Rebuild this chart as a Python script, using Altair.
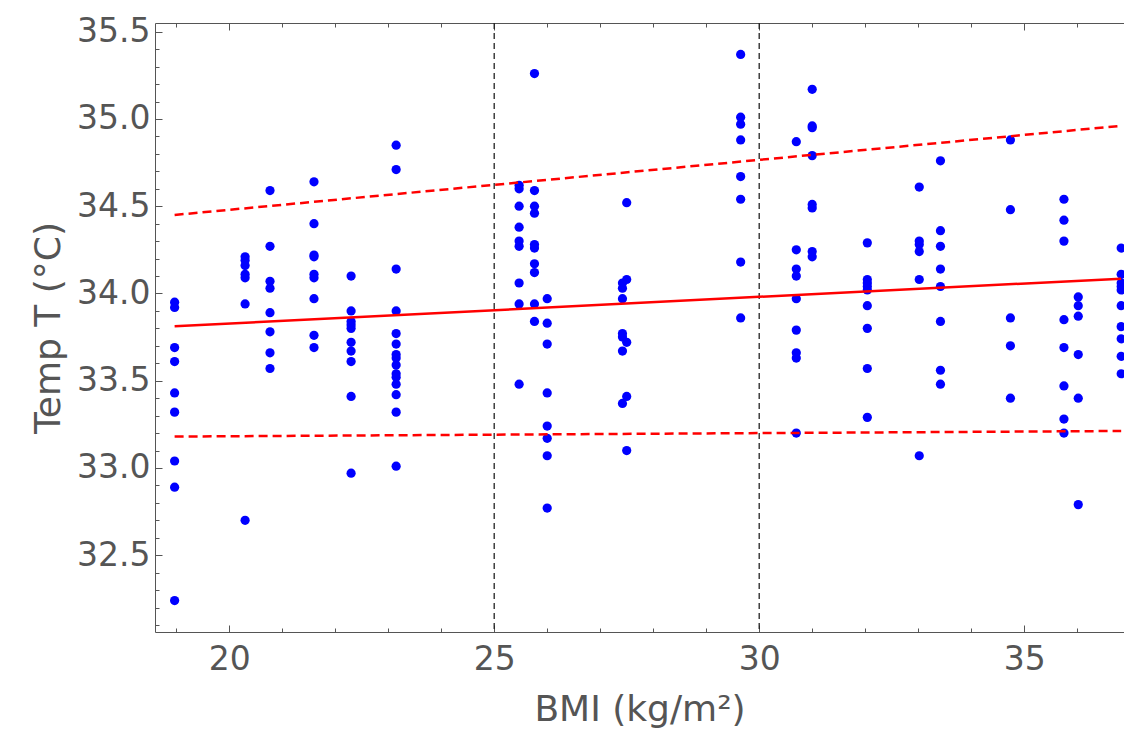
import altair as alt
import numpy as np
import pandas as pd

# ---- data ----
col_bmi = [18.97, 20.30, 20.77, 21.60, 22.30, 23.15, 25.47, 25.76, 26.00,
           27.42, 27.50, 29.65, 30.70, 31.00, 32.04, 33.02, 33.42, 34.74,
           35.75, 36.02, 36.83]
col_temp = [
    [33.95, 33.92, 33.69, 33.61, 33.43, 33.32, 33.04, 32.89, 32.24],
    [34.21, 34.19, 34.16, 34.11, 34.09, 33.94, 32.70],
    [34.59, 34.27, 34.07, 34.03, 33.89, 33.78, 33.66, 33.57],
    [34.64, 34.40, 34.22, 34.21, 34.11, 34.09, 33.97, 33.76, 33.69],
    [34.10, 33.90, 33.84, 33.82, 33.80, 33.72, 33.67, 33.61, 33.41, 32.97],
    [34.85, 34.71, 34.14, 33.90, 33.77, 33.71, 33.65, 33.63, 33.59, 33.54,
     33.52, 33.48, 33.42, 33.32, 33.01],
    [34.62, 34.60, 34.50, 34.38, 34.30, 34.27, 34.06, 33.94, 33.48],
    [35.26, 34.59, 34.50, 34.46, 34.28, 34.26, 34.17, 34.12, 33.94, 33.84],
    [33.97, 33.83, 33.71, 33.43, 33.24, 33.17, 33.07, 32.77],
    [34.06, 34.03, 33.97, 33.77, 33.75, 33.67, 33.37],
    [34.52, 34.08, 33.72, 33.41, 33.10],
    [35.37, 35.01, 34.97, 34.88, 34.67, 34.54, 34.18, 33.86],
    [34.87, 34.25, 34.14, 34.10, 33.97, 33.79, 33.66, 33.63, 33.20],
    [35.17, 34.96, 34.95, 34.79, 34.51, 34.49, 34.24, 34.21],
    [34.29, 34.08, 34.06, 34.04, 34.02, 33.93, 33.80, 33.57, 33.29],
    [34.61, 34.30, 34.28, 34.24, 34.08, 33.07],
    [34.76, 34.36, 34.27, 34.14, 34.04, 33.84, 33.56, 33.48],
    [34.88, 34.48, 33.86, 33.70, 33.40],
    [34.54, 34.42, 34.30, 33.85, 33.69, 33.47, 33.28, 33.20],
    [33.98, 33.93, 33.87, 33.65, 33.40, 32.79],
    [34.26, 34.11, 34.06, 34.04, 34.02, 33.93, 33.81, 33.74, 33.64, 33.54],
]

band_x = [18.97, 36.83]
fit_y = [33.812, 34.085]
upper_y = [34.450, 34.961]
lower_y = [33.180, 33.212]
cutoffs = [25, 30]

x_major = [20, 25, 30, 35]
x_minor = list(range(19, 37))
y_major = [32.5, 33.0, 33.5, 34.0, 34.5, 35.0, 35.5]
y_minor = [round(v, 1) for v in np.arange(32.1, 35.55, 0.1)]

# ---- build tables ----
bmi, temp = [], []
for xv, ys in zip(col_bmi, col_temp):
    for yv in ys:
        bmi.append(xv)
        temp.append(yv)
pts = pd.DataFrame({"bmi": bmi, "temp": temp})
fit_df = pd.DataFrame({"bmi": band_x, "temp": fit_y})
up_df = pd.DataFrame({"bmi": band_x, "temp": upper_y})
lo_df = pd.DataFrame({"bmi": band_x, "temp": lower_y})
cut_a = pd.DataFrame({"bmi": cutoffs[:1]})
cut_b = pd.DataFrame({"bmi": cutoffs[1:]})

FONT = "DejaVu Sans"
GRAY = "#555555"
MAJ, MIN = 7, 4

x_scale = alt.Scale(domain=[18.6, 36.883], nice=False, zero=False)
y_scale = alt.Scale(domain=[32.06, 35.55], nice=False, zero=False)


def tick_axis(orient, values, size):
    return alt.Axis(orient=orient, values=values, tickSize=size, offset=-size,
                    labels=False, domain=False, grid=False, title=None,
                    tickColor=GRAY, tickWidth=1)


def frame_axis(orient):
    return alt.Axis(orient=orient, ticks=False, labels=False, grid=False,
                    domain=True, domainColor=GRAY, domainWidth=1, title=None,
                    offset=0)


x_main = alt.Axis(orient="bottom", values=x_major, format="d", tickSize=MAJ,
                  offset=-MAJ, domain=False, grid=False, tickColor=GRAY,
                  labelFont=FONT, labelFontSize=33, labelColor=GRAY,
                  labelPadding=11, labelOverlap=False, labelFlush=False,
                  title="BMI (kg/m²)", titleFont=FONT, titleFontSize=36,
                  titleFontWeight="normal", titleColor=GRAY, titlePadding=16)
y_main = alt.Axis(orient="left", values=y_major, format=".1f", tickSize=MAJ,
                  offset=-MAJ, domain=False, grid=False, tickColor=GRAY,
                  labelFont=FONT, labelFontSize=33, labelColor=GRAY,
                  labelPadding=5, labelOverlap=False,
                  title="Temp T (°C)", titleFont=FONT, titleFontSize=36,
                  titleFontWeight="normal", titleColor=GRAY, titlePadding=9)

points = alt.Chart(pts).mark_circle(size=85, color="#0000ff", opacity=1).encode(
    x=alt.X("bmi:Q", scale=x_scale, axis=x_main),
    y=alt.Y("temp:Q", scale=y_scale, axis=y_main),
)

rule_a = alt.Chart(cut_a).mark_rule(color="#222222", strokeWidth=1.3,
                                    strokeDash=[6, 4]).encode(
    x=alt.X("bmi:Q", scale=x_scale, axis=frame_axis("bottom")),
)
rule_b = alt.Chart(cut_b).mark_rule(color="#222222", strokeWidth=1.3,
                                    strokeDash=[6, 4]).encode(
    x=alt.X("bmi:Q", scale=x_scale, axis=frame_axis("top")),
)

fit = alt.Chart(fit_df).mark_line(color="#ff0000", strokeWidth=2.5).encode(
    x=alt.X("bmi:Q", scale=x_scale, axis=tick_axis("bottom", x_minor, MIN)),
    y=alt.Y("temp:Q", scale=y_scale, axis=tick_axis("left", y_minor, MIN)),
)

upper = alt.Chart(up_df).mark_line(color="#ff0000", strokeWidth=2.5,
                                   strokeDash=[9, 5]).encode(
    x=alt.X("bmi:Q", scale=x_scale, axis=tick_axis("top", x_major, MAJ)),
    y=alt.Y("temp:Q", scale=y_scale, axis=frame_axis("left")),
)

lower = alt.Chart(lo_df).mark_line(color="#ff0000", strokeWidth=2.5,
                                   strokeDash=[9, 5]).encode(
    x=alt.X("bmi:Q", scale=x_scale, axis=tick_axis("top", x_minor, MIN)),
    y=alt.Y("temp:Q", scale=y_scale, axis=None),
)

chart = alt.layer(points, rule_a, rule_b, fit, upper, lower).resolve_axis(
    x="independent", y="independent"
).properties(
    width=969, height=609,
    autosize=alt.AutoSizeParams(type="none"),
    padding={"left": 147, "top": 15, "right": 0, "bottom": 100},
    background="white",
).configure_view(stroke=None)

chart.save("out.html", embed_options={"renderer": "svg", "actions": False})
